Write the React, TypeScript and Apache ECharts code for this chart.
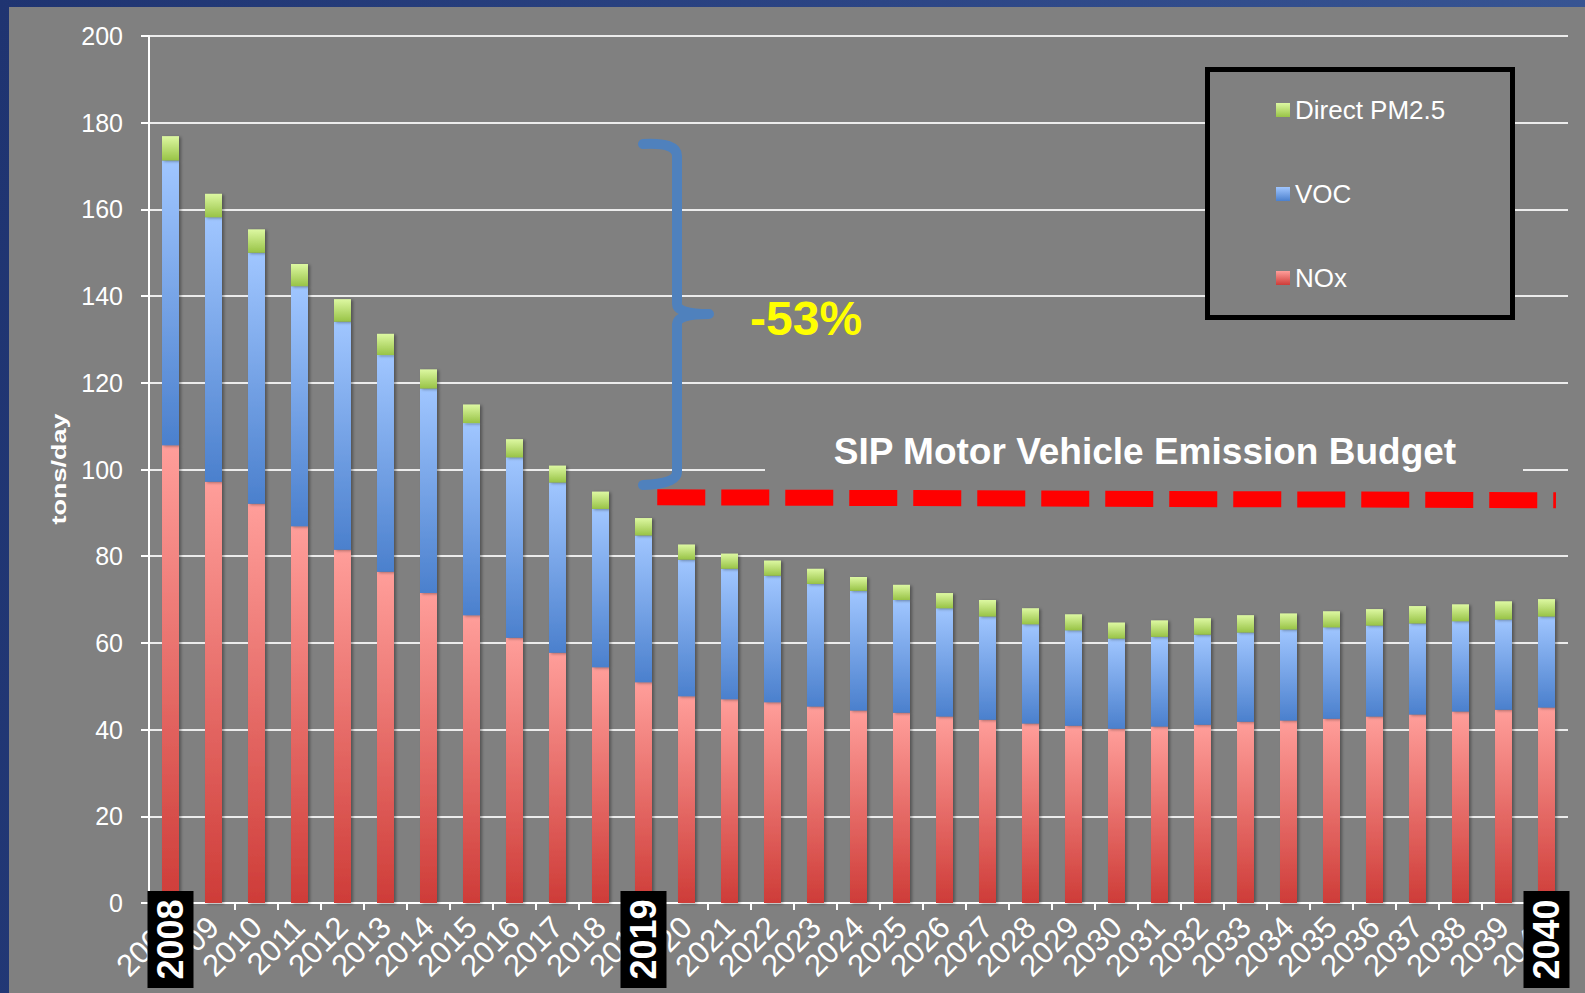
import React, { useEffect, useRef } from 'react';
import * as echarts from 'echarts';

const years = ['2008', '2009', '2010', '2011', '2012', '2013', '2014', '2015', '2016', '2017', '2018', '2019', '2020', '2021', '2022', '2023', '2024', '2025', '2026', '2027', '2028', '2029', '2030', '2031', '2032', '2033', '2034', '2035', '2036', '2037', '2038', '2039', '2040'];

const noxValues = [105.6, 97.2, 92.1, 86.9, 81.5, 76.4, 71.5, 66.4, 61.2, 57.7, 54.4, 50.9, 47.7, 47.0, 46.3, 45.3, 44.4, 43.9, 43.0, 42.3, 41.4, 40.9, 40.2, 40.7, 41.1, 41.8, 42.1, 42.5, 43.0, 43.5, 44.2, 44.6, 45.1];
const vocValues = [65.7, 61.0, 57.9, 55.4, 52.6, 50.0, 47.2, 44.3, 41.6, 39.3, 36.5, 33.9, 31.5, 30.1, 29.2, 28.3, 27.6, 26.0, 25.0, 23.8, 22.9, 22.0, 20.8, 20.7, 20.8, 20.6, 21.0, 21.1, 21.0, 21.0, 20.8, 20.8, 21.0];
const pm25Values = [5.6, 5.4, 5.4, 5.1, 5.2, 4.9, 4.4, 4.3, 4.2, 3.9, 4.0, 4.0, 3.5, 3.5, 3.5, 3.5, 3.2, 3.5, 3.5, 3.8, 3.7, 3.7, 3.7, 3.8, 3.8, 4.0, 3.7, 3.7, 3.8, 4.0, 3.9, 4.2, 4.0];

// SIP budget dashed line: [position along category band (0..33), tons/day]
const budgetLine = [[11.82, 93.6], [32.72, 92.9]];

const highlightYears = ['2008', '2019', '2040'];
const seriesNames = ['NOx', 'VOC', 'Direct PM2.5'];
const legendOrder = ['Direct PM2.5', 'VOC', 'NOx'];
const reductionLabel = '-53%';
const budgetLabel = 'SIP Motor Vehicle Emission Budget';
const yAxisName = 'tons/day';

const FONT = "'Liberation Sans', Arial, Helvetica, sans-serif";

echarts.graphic.registerShape(
  'brace',
  echarts.graphic.extendPath(
    'M 0 4 Q 34 2 34 16 L 34 164 Q 34 174 66 174 Q 34 174 34 184 L 34 332 Q 34 344 0 345',
    {}
  )
);

const grad = (top: string, bottom: string) =>
  new echarts.graphic.LinearGradient(0, 0, 0, 1, [
    { offset: 0, color: top },
    { offset: 1, color: bottom },
  ]);

export default function App() {
  const ref = useRef<HTMLDivElement>(null);

  useEffect(() => {
    if (!ref.current) return;
    const chart = echarts.init(ref.current, null, { renderer: 'svg' });

    const shadow = {
      shadowColor: 'rgba(0,0,0,0.35)',
      shadowBlur: 3,
      shadowOffsetX: 2,
      shadowOffsetY: 1,
    };

    const option: any = {
      animation: false,
      backgroundColor: 'transparent',
      textStyle: { fontFamily: FONT },
      grid: { left: 149, right: 17, top: 36, bottom: 90, containLabel: false },
      legend: {
        data: legendOrder,
        orient: 'vertical',
        left: 1276,
        top: 97,
        padding: 0,
        itemWidth: 14,
        itemHeight: 14,
        itemGap: 58,
        icon: 'rect',
        z: 20,
        textStyle: { color: '#ffffff', fontSize: 26, lineHeight: 26, fontFamily: FONT },
      },
      xAxis: [
        {
          type: 'category',
          data: years,
          boundaryGap: true,
          axisLine: { show: true, lineStyle: { color: '#ffffff', width: 2 } },
          axisTick: { show: true, interval: 0, length: 7, lineStyle: { color: '#ffffff', width: 2 } },
          axisLabel: {
            interval: 0,
            rotate: 45,
            color: '#ffffff',
            fontSize: 31,
            margin: 19,
            fontFamily: FONT,
          },
          splitLine: { show: false },
        },
        {
          type: 'value',
          min: 0,
          max: 33,
          show: false,
        },
      ],
      yAxis: {
        type: 'value',
        min: 0,
        max: 200,
        interval: 20,
        axisLine: { show: true, lineStyle: { color: '#ffffff', width: 2 } },
        axisTick: { show: true, length: 8, lineStyle: { color: '#ffffff', width: 2 } },
        axisLabel: { color: '#ffffff', fontSize: 25, margin: 26, fontFamily: FONT },
        splitLine: { show: true, lineStyle: { color: '#ececec', width: 2 } },
      },
      series: [
        {
          name: seriesNames[0],
          type: 'bar',
          stack: 'total',
          barWidth: 17,
          data: noxValues,
          itemStyle: { color: grad('#ff9e9a', '#ce3c38'), ...shadow },
        },
        {
          name: seriesNames[1],
          type: 'bar',
          stack: 'total',
          barWidth: 17,
          data: vocValues,
          itemStyle: { color: grad('#a0c6ff', '#4b80cd'), ...shadow },
        },
        {
          name: seriesNames[2],
          type: 'bar',
          stack: 'total',
          barWidth: 17,
          data: pm25Values,
          itemStyle: { color: grad('#ddf8a2', '#98c346'), ...shadow },
        },
        {
          name: 'budget',
          type: 'line',
          xAxisIndex: 1,
          yAxisIndex: 0,
          data: budgetLine,
          symbol: 'none',
          silent: true,
          z: 10,
          lineStyle: { color: '#ff0000', width: 16, type: [48, 16], cap: 'butt' },
        },
      ],
    };

    chart.setOption(option);

    const graphics: any[] = [
      {
        type: 'rect',
        z: 3,
        silent: true,
        shape: { x: 1207.5, y: 69.5, width: 305, height: 248 },
        style: { fill: '#808080', stroke: '#000000', lineWidth: 5 },
      },
      {
        type: 'rect',
        z: 3,
        silent: true,
        shape: { x: 765, y: 415, width: 758, height: 66 },
        style: { fill: '#808080' },
      },
      {
        type: 'text',
        z: 5,
        x: 1145,
        y: 451,
        style: {
          text: budgetLabel,
          fill: '#ffffff',
          fontSize: 37,
          fontWeight: 'bold',
          fontFamily: FONT,
          align: 'center',
          verticalAlign: 'middle',
        },
      },
      {
        type: 'brace',
        z: 5,
        x: 643,
        y: 140,
        silent: true,
        style: { fill: 'none', stroke: '#4f81bd', lineWidth: 10, lineCap: 'round', lineJoin: 'round' },
      },
      {
        type: 'text',
        z: 5,
        x: 750,
        y: 318,
        style: {
          text: reductionLabel,
          fill: '#ffff00',
          fontSize: 48,
          fontWeight: 'bold',
          fontFamily: FONT,
          align: 'left',
          verticalAlign: 'middle',
        },
      },
      {
        type: 'text',
        z: 5,
        x: 58.5,
        y: 469,
        rotation: Math.PI / 2,
        scaleX: 1.35,
        style: {
          text: yAxisName,
          fill: '#ffffff',
          fontSize: 20,
          fontWeight: 'bold',
          fontFamily: FONT,
          align: 'center',
          verticalAlign: 'middle',
        },
      },
    ];

    highlightYears.forEach((yr) => {
      const cx = chart.convertToPixel({ xAxisIndex: 0 }, yr) as unknown as number;
      graphics.push({
        type: 'rect',
        z: 6,
        silent: true,
        shape: { x: cx - 23, y: 891, width: 46, height: 97 },
        style: { fill: '#000000' },
      });
      graphics.push({
        type: 'text',
        z: 7,
        x: cx,
        y: 939.5,
        rotation: Math.PI / 2,
        style: {
          text: yr,
          fill: '#ffffff',
          fontSize: 36,
          fontWeight: 'bold',
          fontFamily: FONT,
          align: 'center',
          verticalAlign: 'middle',
        },
      });
    });

    chart.setOption({ graphic: graphics });

    return () => {
      chart.dispose();
    };
  }, []);

  return (
    <div
      style={{
        position: 'absolute',
        left: 0,
        top: 0,
        width: 1585,
        height: 993,
        overflow: 'hidden',
        background: 'linear-gradient(100deg, #1f3471 0%, #2c4585 50%, #3a5896 100%)',
      }}
    >
      <div
        style={{
          position: 'absolute',
          left: 9,
          top: 7,
          right: 0,
          bottom: 0,
          background: '#808080',
        }}
      />
      <div ref={ref} style={{ position: 'absolute', left: 0, top: 0, width: 1585, height: 993 }} />
    </div>
  );
}
